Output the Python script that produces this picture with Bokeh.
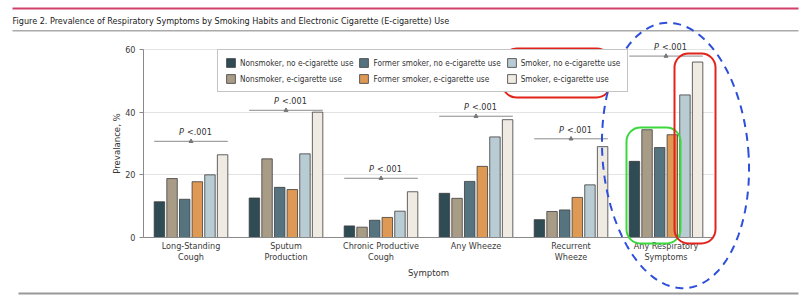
import numpy as np
from bokeh.plotting import figure
from bokeh.models import (Range1d, FixedTicker, ColumnDataSource, LabelSet, Label,
                          BoxAnnotation, PolyAnnotation)
from bokeh.core.properties import value
from bokeh.embed import file_html
from bokeh.resources import INLINE

# ---------------- data ----------------
categories = ["Long-Standing\nCough", "Sputum\nProduction", "Chronic Productive\nCough",
              "Any Wheeze", "Recurrent\nWheeze", "Any Respiratory\nSymptoms"]
groups = ["Nonsmoker, no e-cigarette use", "Nonsmoker, e-cigarette use",
          "Former smoker, no e-cigarette use", "Former smoker, e-cigarette use",
          "Smoker, no e-cigarette use", "Smoker, e-cigarette use"]
nonsmoker_no = [11.4, 12.6, 3.7, 14.1, 5.7, 24.3]
nonsmoker_e = [18.8, 25.1, 3.3, 12.5, 8.3, 34.4]
former_no = [12.2, 16.0, 5.5, 17.9, 8.8, 28.7]
former_e = [17.8, 15.3, 6.4, 22.7, 12.8, 32.8]
smoker_no = [20.0, 26.7, 8.4, 32.1, 16.8, 45.5]
smoker_e = [26.4, 40.0, 14.6, 37.6, 29.0, 56.0]
series = [nonsmoker_no, nonsmoker_e, former_no, former_e, smoker_no, smoker_e]
p_values = ["<.001"] * 6
bracket_level = [30.7, 40.6, 18.9, 38.7, 31.5, 57.9]
y_ticks = [0, 20, 40, 60]

colors = ["#2F4B53", "#A99C87", "#557480", "#DE9A55", "#B9CBD3", "#EFEBE2"]
FONT = "DejaVu Sans Condensed"

W, H = 811, 301
NCAT = len(categories)
YMAX = 60
# pixel placement of the data area inside the canvas
PX0, PX1 = 143, 713
PY0, PYT = 237, 49
sx = (PX1 - PX0) / NCAT
sy = (PY0 - PYT) / YMAX

def X(px):
    return (px - PX0) / sx
def Y(py):
    return (PY0 - py) / sy

p = figure(width=W, height=H, output_backend="svg", toolbar_location=None,
           x_range=Range1d(X(0), X(W)), y_range=Range1d(Y(H), Y(0)),
           min_border=0, min_border_left=0, min_border_right=0,
           min_border_top=0, min_border_bottom=0)
p.outline_line_color = None
p.background_fill_color = "white"
p.border_fill_color = "white"

centers = np.arange(NCAT) + 0.5
slot = 0.133
bw = 0.11

# grid
p.xgrid.grid_line_color = None
p.ygrid.grid_line_color = "#e3e3e3"
p.ygrid.ticker = FixedTicker(ticks=y_ticks)
try:
    p.ygrid.cross_bounds = (0, NCAT)
    p.ygrid.bounds = (0, YMAX)
except AttributeError:
    p.ygrid.grid_line_color = None
    p.segment(x0=[0] * len(y_ticks), x1=[NCAT] * len(y_ticks), y0=y_ticks, y1=y_ticks,
              line_color="#e3e3e3", line_width=1)

for k, (vals, name) in enumerate(zip(series, groups)):
    xs = centers + (k - 2.5) * slot
    src = ColumnDataSource(dict(x=xs, top=vals))
    p.vbar(x="x", top="top", width=bw, source=src, fill_color=colors[k],
           line_color="#3c3c3c", line_width=0.8, legend_label=name)

# significance brackets
half = 2.5 * slot + bw / 2
p.segment(x0=centers - half, x1=centers + half, y0=bracket_level, y1=bracket_level,
          line_color="#8a8a8a", line_width=1)
p.scatter(x=centers, y=bracket_level, marker="triangle", size=4,
          fill_color="#777777", line_color="#777777")
psrc = ColumnDataSource(dict(x=centers, y=bracket_level, P=["P"] * NCAT, v=p_values))
p.add_layout(LabelSet(x="x", y="y", text="P", source=psrc, x_offset=-7, y_offset=4,
                      text_align="right", text_baseline="bottom",
                      text_font_style="italic", text_font=value(FONT),
                      text_font_size="9px", text_color="#333333"))
p.add_layout(LabelSet(x="x", y="y", text="v", source=psrc, x_offset=-4, y_offset=4,
                      text_align="left", text_baseline="bottom", text_font=value(FONT),
                      text_font_size="9px", text_color="#333333"))

# axes (placed at the data origin)
p.yaxis.ticker = FixedTicker(ticks=y_ticks)
p.yaxis.axis_label = "Prevalance, %"
p.xaxis.ticker = FixedTicker(ticks=list(centers))
p.xaxis.major_label_overrides = {float(c): lab for c, lab in zip(centers, categories)}
p.xaxis.axis_label = "Symptom"
p.xaxis[0].fixed_location = 0
p.yaxis[0].fixed_location = 0
p.xaxis[0].bounds = (0, NCAT)
p.yaxis[0].bounds = (0, YMAX)
for ax in (p.xaxis, p.yaxis):
    ax.axis_line_color = "#8a8a8a"
    ax.major_tick_line_color = "#8a8a8a"
    ax.minor_tick_line_color = None
    ax.major_tick_in = 0
    ax.major_tick_out = 4
    ax.major_label_text_font = FONT
    ax.major_label_text_font_size = "9px"
    ax.major_label_text_color = "#3a3a3a"
    ax.major_label_text_line_height = 1.1
    ax.axis_label_text_font = FONT
    ax.axis_label_text_font_size = "9.5px"
    ax.axis_label_text_font_style = "normal"
    ax.axis_label_text_color = "#333333"
p.xaxis.major_tick_line_color = None
p.xaxis.major_tick_out = 0
p.xaxis.major_label_standoff = 3
p.xaxis.axis_label_standoff = 2
p.yaxis.major_label_standoff = 4
p.yaxis.axis_label_standoff = 0

# legend
lg = p.legend[0]
lg.orientation = "vertical"
lg.nrows = 2
lg.location = (217, H - 92)
lg.margin = 0
lg.padding = 7
lg.spacing = 5
lg.glyph_width = 11
lg.glyph_height = 11
lg.label_height = 11
lg.label_standoff = 4
lg.label_text_font = FONT
lg.label_text_font_size = "8.2px"
lg.label_text_color = "#333333"
lg.border_line_color = "#8a8a8a"
lg.border_line_width = 1
lg.background_fill_alpha = 1

# header / footer rules and title
def rule(l, r, t, b, color):
    return BoxAnnotation(left=X(l), right=X(r), top=Y(t), bottom=Y(b),
                         fill_color=color, fill_alpha=1, line_color=None)
p.add_layout(rule(12, 798, 7, 9, "#D0406A"))
p.add_layout(rule(12, 798, 29.5, 31, "#aaaaaa"))
p.add_layout(rule(18, 798, 292, 294, "#999999"))
p.add_layout(Label(x=X(12), y=Y(20), text="Figure 2. Prevalence of Respiratory Symptoms by Smoking Habits and Electronic Cigarette (E-cigarette) Use",
                   text_baseline="middle", text_font=FONT, text_font_size="9px",
                   text_font_style="normal", text_color="#1a1a1a"))

# hand-drawn highlight marks
def rbox(l, r, t, b, color):
    return BoxAnnotation(left=X(l), right=X(r), top=Y(t), bottom=Y(b),
                         fill_alpha=0, line_color=color, line_alpha=1, line_width=2,
                         border_radius=14)
p.add_layout(rbox(502, 610, 48, 97, "#E2231A"))
p.add_layout(rbox(626, 680, 127, 243, "#3DD83D"))
p.add_layout(rbox(674, 715, 53, 243, "#E2231A"))

t = np.linspace(0, 2 * np.pi, 120)
cx, cy, a, b, phi = 675, 155, 73, 133, -0.08
ex = cx + a * np.cos(t) * np.cos(phi) - b * np.sin(t) * np.sin(phi)
ey = cy + a * np.cos(t) * np.sin(phi) + b * np.sin(t) * np.cos(phi)
p.add_layout(PolyAnnotation(xs=[X(v) for v in ex], ys=[Y(v) for v in ey],
                            fill_alpha=0, line_color="#2E4FDB", line_alpha=1, line_width=2,
                            line_dash="8 6"))

open("out.html", "w").write(file_html(p, INLINE))
